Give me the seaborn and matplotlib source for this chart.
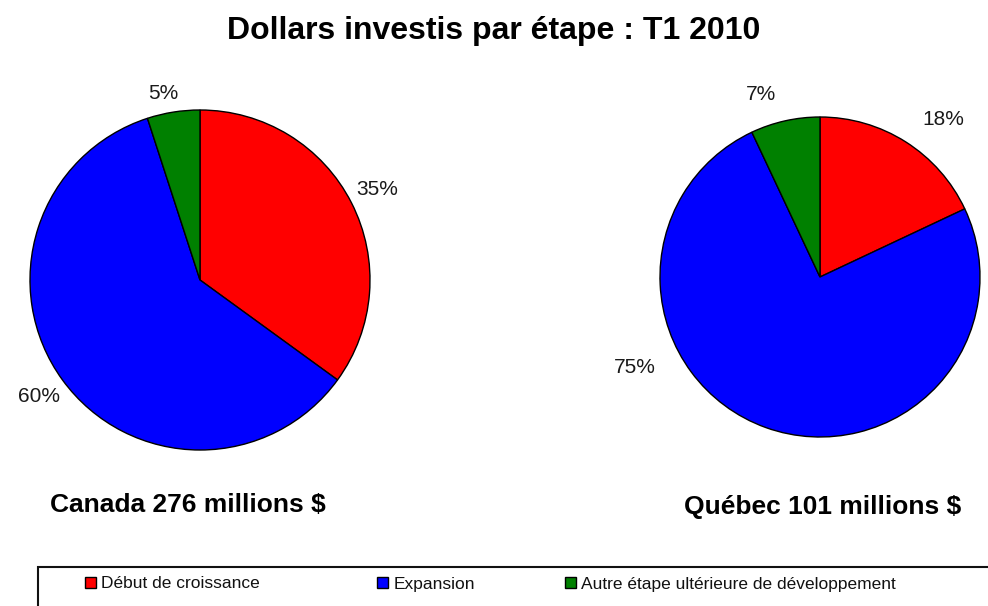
import matplotlib
matplotlib.use("Agg")
import matplotlib.pyplot as plt
from matplotlib.patches import Rectangle
import seaborn as sns
import numpy as np

stages = ["Début de croissance", "Expansion", "Autre étape ultérieure de développement"]
canada_pct = [35, 60, 5]
quebec_pct = [18, 75, 7]
canada_label = "Canada 276 millions $"
quebec_label = "Québec 101 millions $"
title = "Dollars investis par étape : T1 2010"
colors = ["#ff0000", "#0000ff", "#008000"]

sns.set_style("white")
plt.rcParams["font.family"] = ["Liberation Sans", "DejaVu Sans"]

W, H = 988, 606
fig = plt.figure(figsize=(W / 100, H / 100), dpi=100)


def px_axes(x0, y0, x1, y1):
    # pixel box (top-left origin) -> figure axes
    return fig.add_axes([x0 / W, 1 - y1 / H, (x1 - x0) / W, (y1 - y0) / H])


def draw_pie(ax, values, label_dist):
    wedges, texts = ax.pie(values, colors=colors, startangle=90, counterclock=False,
                           labels=[f"{v}%" for v in values], labeldistance=label_dist,
                           wedgeprops=dict(edgecolor="black", linewidth=1.0),
                           textprops=dict(fontsize=15, color="#1a1a1a"))
    ax.set_xlim(-1, 1)
    ax.set_ylim(-1, 1)
    ax.set_aspect("equal")
    ax.axis("off")
    for t in texts:
        t.set_ha("center")
        t.set_va("center")
        t.set_clip_on(False)
    return wedges, texts


def move_label(t, angle, dist):
    a = np.deg2rad(angle)
    t.set_position((dist * np.cos(a), dist * np.sin(a)))


ax1 = px_axes(30, 110, 370, 450)
wedges, t1 = draw_pie(ax1, canada_pct, 1.17)
move_label(t1[2], 101, 1.12)

ax2 = px_axes(660, 117, 980, 437)
_, t2 = draw_pie(ax2, quebec_pct, 1.22)
# Excel placed the Québec labels off the slice middles
move_label(t2[0], 52, 1.25)
move_label(t2[1], -154, 1.29)
move_label(t2[2], 108, 1.2)

fig.text(494 / W, 1 - 31 / H, title, ha="center", va="center", fontsize=23,
         fontweight="bold", color="black")
fig.text(188 / W, 1 - 505 / H, canada_label, ha="center", va="center", fontsize=19,
         fontweight="bold", color="black")
fig.text(823 / W, 1 - 507 / H, quebec_label, ha="center", va="center", fontsize=19,
         fontweight="bold", color="black")

# legend box, running off the right and bottom edges like the original
fig.patches.append(Rectangle((38 / W, -0.05), 1.0, 1 - 567 / H + 0.05, transform=fig.transFigure,
                             fill=False, edgecolor="#111111", linewidth=1.5, clip_on=False))
for w, s, x in zip(wedges, stages, [85, 377, 565]):
    leg = fig.legend([w], [s], loc="center left", bbox_to_anchor=(x / W, 1 - 584 / H),
                     frameon=False, fontsize=12.5, handlelength=0.65, handleheight=0.65,
                     handletextpad=0.3, borderpad=0, borderaxespad=0)
    for txt in leg.get_texts():
        txt.set_color("#111111")

fig.savefig("out.png", dpi=100)
